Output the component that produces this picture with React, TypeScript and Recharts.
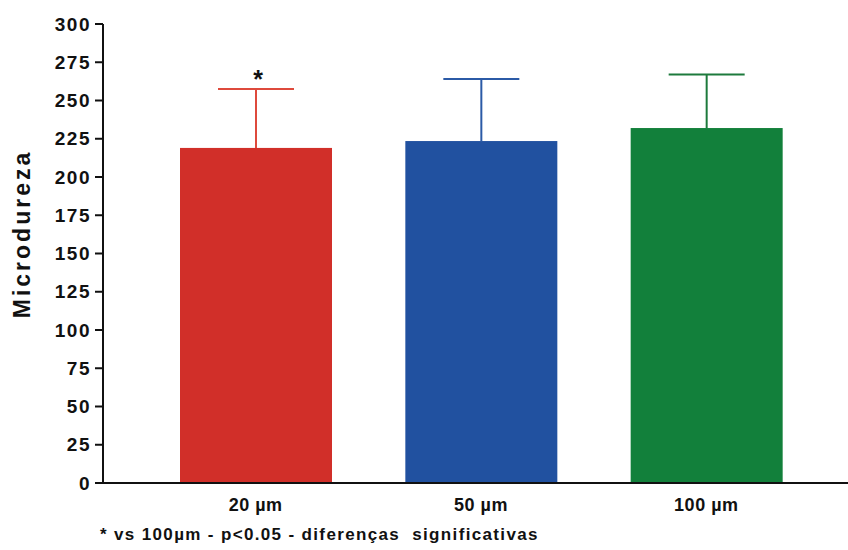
import { BarChart, Bar, XAxis, YAxis } from 'recharts'

const CATEGORIES = ['20 µm', '50 µm', '100 µm']
const MEANS = [219, 223.5, 232]
const SD = [38.5, 40.5, 35]
const SIG = ['*', '', '']
const Y_TICKS = [0, 25, 50, 75, 100, 125, 150, 175, 200, 225, 250, 275, 300]

const FILLS = ['#d12f29', '#2151a0', '#12803b']
const WHISKERS = ['#de4a3c', '#2b5aa6', '#1d7a3c']
const FONT = '"Liberation Sans", Arial, sans-serif'

const data = CATEGORIES.map((name, i) => ({ name, mean: MEANS[i], sd: SD[i], sig: SIG[i] }))

// bar + upward-only whisker, scaled from the bar's own pixel height
function WhiskerBar(props: any) {
  const { x, y, width, height, payload, index } = props
  const pxPerUnit = height / payload.mean
  const top = y - payload.sd * pxPerUnit
  const cx = x + width / 2
  const cap = width * 0.25
  const c = WHISKERS[index]
  return (
    <g>
      <rect x={x} y={y} width={width} height={height} fill={FILLS[index]} />
      <line x1={cx} y1={y} x2={cx} y2={top} stroke={c} strokeWidth={2} />
      <line x1={cx - cap} y1={top} x2={cx + cap} y2={top} stroke={c} strokeWidth={2} />
      {payload.sig && (
        <text x={cx + 2} y={top - 1} textAnchor="middle" fontSize={25} fontWeight="bold" fontFamily={FONT} fill="#111">
          {payload.sig}
        </text>
      )}
    </g>
  )
}

export default function App() {
  return (
    <div style={{ position: 'absolute', left: 0, top: 0, width: 848, height: 550, background: '#fff' }}>
      <BarChart width={848} height={550} data={data} margin={{ top: 24, right: 0, bottom: 37, left: 40 }} barSize={152}>
        <XAxis
          dataKey="name"
          height={30}
          padding={{ left: 40, right: 29 }}
          tickLine={false}
          tickSize={8}
          tickMargin={7}
          axisLine={{ stroke: '#111', strokeWidth: 2 }}
          tick={{ fill: '#111', fontSize: 18, fontWeight: 'bold', fontFamily: FONT, letterSpacing: 0.5 }}
        />
        <YAxis
          width={63}
          domain={[0, 300]}
          ticks={Y_TICKS}
          interval={0}
          tickSize={8}
          tickMargin={4}
          axisLine={{ stroke: '#111', strokeWidth: 2 }}
          tickLine={{ stroke: '#111', strokeWidth: 2 }}
          tick={{ fill: '#111', fontSize: 19, fontWeight: 'bold', fontFamily: FONT, letterSpacing: 1.5 }}
          label={{
            content: () => (
              <text
                x={22}
                y={234}
                transform="rotate(-90, 22, 234)"
                textAnchor="middle"
                dominantBaseline="central"
                fontSize={23}
                fontWeight="bold"
                fontFamily={FONT}
                letterSpacing={3}
                fill="#111"
              >
                Microdureza
              </text>
            ),
          }}
        />
        <Bar dataKey="mean" shape={<WhiskerBar />} isAnimationActive={false} />
      </BarChart>
      <div
        style={{
          position: 'absolute',
          left: 100,
          top: 525,
          fontFamily: FONT,
          fontWeight: 'bold',
          fontSize: 17,
          letterSpacing: 1.35,
          color: '#111',
          whiteSpace: 'pre',
        }}
      >
        {'* vs 100µm - p<0.05 - diferenças  significativas'}
      </div>
    </div>
  )
}
